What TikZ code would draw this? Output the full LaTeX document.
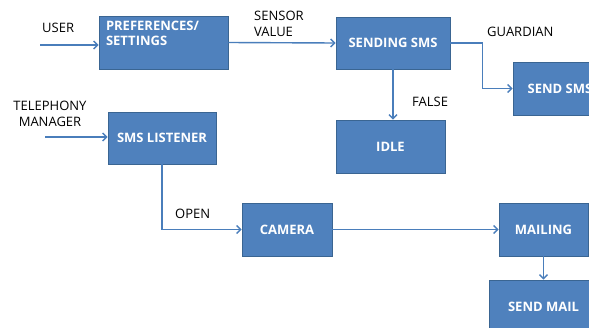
\documentclass[tikz,border=0pt]{standalone}
\usepackage{fontspec}
\setmainfont{Open Sans}
\usetikzlibrary{arrows.meta}

\definecolor{boxblue}{HTML}{4F81BD}
\definecolor{boxedge}{HTML}{3A6592}
\definecolor{lineblue}{HTML}{4A7EBB}

\begin{document}
\begin{tikzpicture}[x=1pt,y=-1pt,
    box/.style={draw=boxedge,line width=0.8pt,fill=boxblue,text=white,
        font=\fontsize{13}{15.5}\selectfont\bfseries,inner sep=0pt},
    lbl/.style={font=\fontsize{13}{15.5}\selectfont,inner sep=0pt,align=left},
    flow/.style={draw=lineblue,line width=1.4pt,-{Straight Barb[length=4pt,width=8pt]}}]
    \useasboundingbox (0,0) rectangle (589,327);
    \clip (0,0) rectangle (589,327);

    %blocks
    \node[box,minimum width=129,minimum height=53] (pref) at (163.5,42.5) {};
    \node[box,draw=none,fill=none,anchor=north west,align=left] (preftxt) at ([shift={(7,5)}]pref.north west) {PREFERENCES/\\SETTINGS};
    \node[box,minimum width=114,minimum height=52] (send) at (393,43) {SENDING SMS};
    \node[box,minimum width=94,minimum height=53] (sms) at (560,88.5) {SEND SMS};
    \node[box,minimum width=109,minimum height=53] (idle) at (390.5,146.5) {IDLE};
    \node[box,minimum width=108,minimum height=52] (lst) at (162,138) {SMS LISTENER};
    \node[box,minimum width=90,minimum height=53] (cam) at (287,229.5) {CAMERA};
    \node[box,minimum width=89,minimum height=53] (mail) at (543.5,229.5) {MAILING};
    \node[box,minimum width=109,minimum height=53] (smail) at (543.5,306.5) {SEND MAIL};

    %labels
    \node[lbl,anchor=west] (user) at (42,28) {USER};
    \node[lbl,anchor=west] (sens) at (254,24) {SENSOR\\VALUE};
    \node[lbl,anchor=west] (guard) at (487,32) {GUARDIAN};
    \node[lbl,anchor=west] (false) at (412,102) {FALSE};
    \node[lbl,align=center] (tel) at (50,114) {TELEPHONY\\MANAGER};
    \node[lbl,anchor=west] (open) at (175,214) {OPEN};

    %inputs
    \coordinate (uin) at (40,45);
    \coordinate (tin) at (45,137);

    \draw[flow] (uin) -- (uin -| pref.west);
    \draw[flow] (tin) -- (tin -| lst.west);
    \draw[flow] (pref.east) -- (send.west);
    \draw[flow] (send.east) -- ++(32,0) |- (sms.west);
    \draw[flow] (send.south) -- (send.south |- idle.north);
    \draw[flow] (lst.south) |- (cam.west);
    \draw[flow] (cam.east) -- (mail.west);
    \draw[flow] (mail.south) -- (smail.north);
\end{tikzpicture}
\end{document}
